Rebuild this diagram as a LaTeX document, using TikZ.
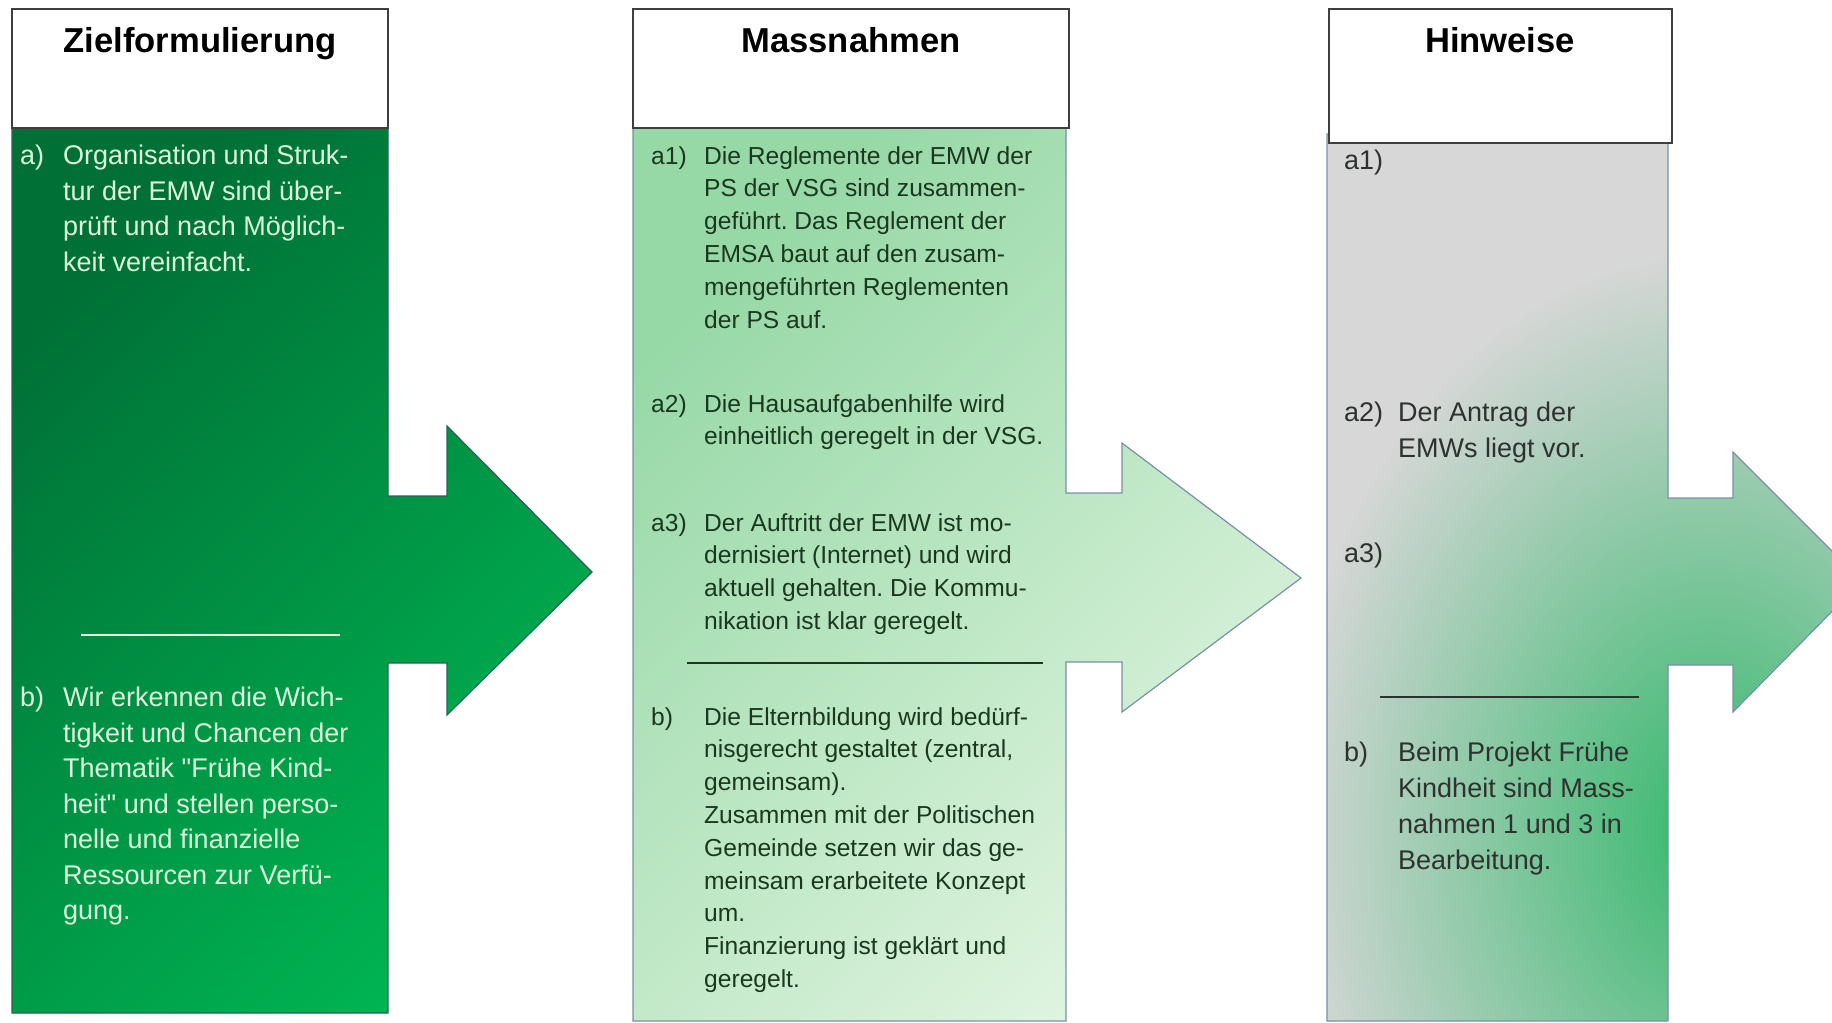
\documentclass[tikz,border=0pt]{standalone}
\usepackage{fontspec}
\setmainfont{Liberation Sans}
\frenchspacing

\definecolor{zielA}{RGB}{0,112,54}
\definecolor{zielB}{RGB}{0,180,82}
\definecolor{zieltext}{RGB}{220,248,220}
\definecolor{massA}{RGB}{150,216,166}
\definecolor{massB}{RGB}{224,244,224}
\definecolor{masstext}{RGB}{26,56,30}
\definecolor{hinwgrau}{RGB}{215,215,215}
\definecolor{hinwgruen}{RGB}{52,184,108}
\definecolor{hinwtext}{RGB}{45,50,46}
\definecolor{rahmen}{RGB}{62,62,62}
\definecolor{randblau}{RGB}{120,145,168}
\definecolor{randgruen}{RGB}{40,98,92}

\begin{document}
\begin{tikzpicture}[x=1pt,y=1pt,
    kopf/.style={draw=rahmen,line width=1.6pt,fill=white},
    titel/.style={anchor=base,font=\bfseries\fontsize{34.6}{40}\selectfont},
    txtgross/.style={anchor=north west,inner sep=0pt,align=left,font=\fontsize{27}{35.5}\selectfont},
    txtklein/.style={anchor=north west,inner sep=0pt,align=left,font=\fontsize{24.6}{32.8}\selectfont}]
	\useasboundingbox (0,0) rectangle (1832,-1023);

	% Zielformulierung
	\shadedraw[top color=zielA,bottom color=zielB,shading angle=45,draw=randgruen,line width=1.2pt]
		(12,-128) -- (388,-128) -- (388,-496) -- (447,-496) -- (447,-426) -- (592,-572)
		-- (447,-715) -- (447,-663) -- (388,-663) -- (388,-1013) -- (12,-1013) -- cycle;
	\draw[kopf] (12,-9) rectangle (388,-128);
	\node[titel] (zieltitel) at (200,-52) {Zielformulierung};

	\node[txtgross,text=zieltext] (ziela) at (20,-145) {a)};
	\node[txtgross,text=zieltext] (zielatxt) at (63,-145) {Organisation und Struk-\\tur der EMW sind über-\\prüft und nach Möglich-\\keit vereinfacht.};
	\draw[zieltext,line width=1.5pt] (81,-635) -- (340,-635);
	\node[txtgross,text=zieltext] (zielb) at (20,-687) {b)};
	\node[txtgross,text=zieltext] (zielbtxt) at (63,-687) {Wir erkennen die Wich-\\tigkeit und Chancen der\\Thematik \textquotedbl Frühe Kind-\\heit\textquotedbl{} und stellen perso-\\nelle und finanzielle\\Ressourcen zur Verfü-\\gung.};

	% Massnahmen
	\shadedraw[top color=massA,bottom color=massB,shading angle=45,draw=randblau,line width=1.2pt]
		(633,-128) -- (1066,-128) -- (1066,-493) -- (1122,-493) -- (1122,-443) -- (1301,-578)
		-- (1122,-712) -- (1122,-662) -- (1066,-662) -- (1066,-1021) -- (633,-1021) -- cycle;
	\draw[kopf] (633,-9) rectangle (1069,-128);
	\node[titel] (masstitel) at (851,-52) {Massnahmen};

	\node[txtklein,text=masstext] (massa1) at (651,-146) {a1)};
	\node[txtklein,text=masstext] (massa1txt) at (704,-146) {Die Reglemente der EMW der\\PS der VSG sind zusammen-\\geführt. Das Reglement der\\EMSA baut auf den zusam-\\mengeführten Reglementen\\der PS auf.};
	\node[txtklein,text=masstext] (massa2) at (651,-394) {a2)};
	\node[txtklein,text=masstext] (massa2txt) at (704,-394) {Die Hausaufgabenhilfe wird\\einheitlich geregelt in der VSG.};
	\node[txtklein,text=masstext] (massa3) at (651,-513) {a3)};
	\node[txtklein,text=masstext] (massa3txt) at (704,-513) {Der Auftritt der EMW ist mo-\\dernisiert (Internet) und wird\\aktuell gehalten. Die Kommu-\\nikation ist klar geregelt.};
	\draw[masstext,line width=1.5pt] (687,-663) -- (1043,-663);
	\node[txtklein,text=masstext] (massb) at (651,-707) {b)};
	\node[txtklein,text=masstext] (massbtxt) at (704,-707) {Die Elternbildung wird bedürf-\\nisgerecht gestaltet (zentral,\\gemeinsam).\\Zusammen mit der Politischen\\Gemeinde setzen wir das ge-\\meinsam erarbeitete Konzept\\um.\\Finanzierung ist geklärt und\\geregelt.};

	% Hinweise
	\fill[hinwgrau]
		(1327,-134) -- (1668,-134) -- (1668,-498) -- (1733,-498) -- (1733,-452) -- (1862,-581)
		-- (1733,-712) -- (1733,-665) -- (1668,-665) -- (1668,-1021) -- (1327,-1021) -- cycle;
	\begin{scope}
		\clip (1327,-134) -- (1668,-134) -- (1668,-498) -- (1733,-498) -- (1733,-452) -- (1862,-581)
			-- (1733,-712) -- (1733,-665) -- (1668,-665) -- (1668,-1021) -- (1327,-1021) -- cycle;
		\shade[inner color=hinwgruen,outer color=hinwgrau] (1710,-830) ellipse (430 and 580);
	\end{scope}
	\draw[randblau,line width=1.2pt]
		(1327,-134) -- (1668,-134) -- (1668,-498) -- (1733,-498) -- (1733,-452) -- (1862,-581)
		-- (1733,-712) -- (1733,-665) -- (1668,-665) -- (1668,-1021) -- (1327,-1021) -- cycle;
	\draw[kopf] (1329,-9) rectangle (1672,-143);
	\node[titel] (hinwtitel) at (1500,-52) {Hinweise};

	\node[txtgross,text=hinwtext] (hinwa1) at (1344,-150) {a1)};
	\node[txtgross,text=hinwtext] (hinwa2) at (1344,-402) {a2)};
	\node[txtgross,text=hinwtext] (hinwa2txt) at (1398,-402) {Der Antrag der\\EMWs liegt vor.};
	\node[txtgross,text=hinwtext] (hinwa3) at (1344,-543) {a3)};
	\draw[hinwtext,line width=1.5pt] (1380,-697) -- (1639,-697);
	\node[txtgross,text=hinwtext,font=\fontsize{27}{36}\selectfont] (hinwb) at (1344,-742) {b)};
	\node[txtgross,text=hinwtext,font=\fontsize{27}{36}\selectfont] (hinwbtxt) at (1398,-742) {Beim Projekt Frühe\\Kindheit sind Mass-\\nahmen 1 und 3 in\\Bearbeitung.};
\end{tikzpicture}
\end{document}
